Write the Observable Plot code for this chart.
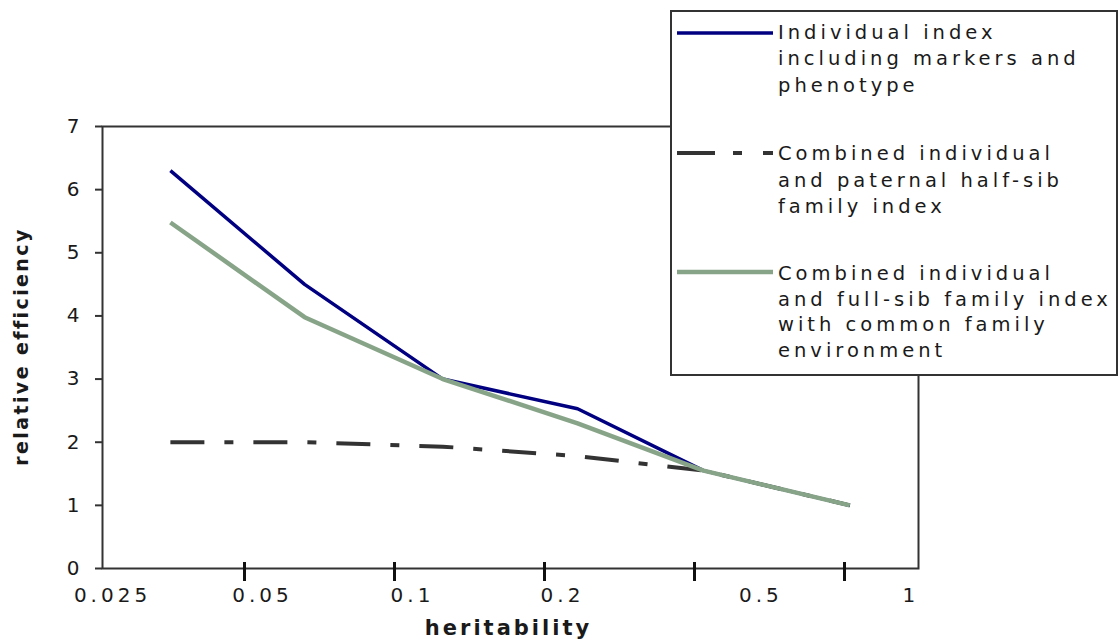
<!DOCTYPE html>
<html><head><meta charset="utf-8">
<script src="https://cdn.jsdelivr.net/npm/d3@7"></script>
<script src="https://cdn.jsdelivr.net/npm/@observablehq/plot@0.6"></script>
<style>
body{margin:0;background:#fff;}
#wrap{position:relative;width:1118px;height:641px;overflow:hidden;}
#legend{position:absolute;left:670px;top:10px;}
</style></head><body>
<div id="wrap"><div id="chart"></div><svg id="legend" width="448" height="368"></svg></div>
<script>
// ---- data ----
const heritability = [0.0355, 0.066, 0.125, 0.233, 0.417, 0.82];
const individualIndex = [6.3, 4.5, 3.0, 2.53, 1.55, 1.0];
const halfSibIndex = [2.0, 2.0, 1.93, 1.78, 1.55, 1.0];
const fullSibIndex = [5.48, 3.98, 3.0, 2.3, 1.55, 1.0];
const seriesNames = [
  "Individual index including markers and phenotype",
  "Combined individual and paternal half-sib family index",
  "Combined individual and full-sib family index with common family environment"
];
const legendLines = [
  ["Individual index", "including markers and", "phenotype"],
  ["Combined individual", "and paternal half-sib", "family index"],
  ["Combined individual", "and full-sib family index", "with common family", "environment"]
];
const xTickMarks = [0.05, 0.1, 0.2, 0.4, 0.8];
const xTickLabels = [0.025, 0.05, 0.1, 0.2, 0.5, 1];
const yTicks = [0, 1, 2, 3, 4, 5, 6, 7];

// ---- styles ----
const styles = [
  {stroke: "#000080", strokeWidth: 3.5, dash: null},
  {stroke: "#333333", strokeWidth: 4, dash: "34,20,9,20"},
  {stroke: "#88a488", strokeWidth: 4.5, dash: null}
];
const seriesValues = [individualIndex, halfSibIndex, fullSibIndex];
const rows = seriesValues.map((vals, i) => heritability.map((h, j) => ({h, v: vals[j], series: seriesNames[i]})));

const font = "DejaVu Sans, Verdana, sans-serif";
const lineMark = i => Plot.line(rows[i], {x: "h", y: "v", stroke: styles[i].stroke, strokeWidth: styles[i].strokeWidth,
  strokeDasharray: styles[i].dash || undefined, strokeLinejoin: "round", strokeLinecap: "butt"});

const chart = Plot.plot({
  width: 1118, height: 641,
  marginLeft: 102, marginRight: 200, marginTop: 126, marginBottom: 73,
  style: {fontFamily: font, color: "#1a1a1a", background: "white"},
  x: {type: "log", base: 2, domain: [0.025, 1.126], range: [94, 918]},
  y: {domain: [0, 7]},
  marks: [
    Plot.frame({stroke: "#333", strokeWidth: 2}),
    Plot.axisY({ticks: yTicks, tickSize: 7, tickPadding: 16, fontSize: 20, tickFormat: d => String(d), label: null, stroke: "#333", strokeWidth: 2}),
    Plot.axisX({ticks: xTickMarks, tickSize: 19, dy: -6, tickFormat: () => "", strokeWidth: 3, stroke: "#111", label: null}),
    Plot.axisX({ticks: xTickLabels, tickSize: 0, tickPadding: 19, dx: 18, fontSize: 20, tickFormat: d => String(d), label: null}),
    lineMark(1),
    lineMark(0),
    lineMark(2),
    Plot.text(["heritability"], {frameAnchor: "bottom", lineAnchor: "middle", textAnchor: "middle", dy: 60, dx: -2, fontSize: 21, fontWeight: "bold", fill: "#1a1a1a"}),
    Plot.text(["relative efficiency"], {frameAnchor: "left", lineAnchor: "middle", textAnchor: "middle", rotate: -90, dx: -81, dy: -1, fontSize: 19, fontWeight: "bold", fill: "#1a1a1a"})
  ]
});
document.getElementById("chart").appendChild(chart);
const sel = d3.select(chart);
sel.selectAll('g[aria-label="x-axis tick label"]').attr("font-size", 20);
sel.selectAll('g[aria-label="x-axis tick label"] text').attr("letter-spacing", 4);
sel.selectAll('g[aria-label="y-axis tick label"]').attr("font-size", 20);
const tg = sel.selectAll('g[aria-label="text"]').nodes();
if (tg[0]) d3.select(tg[0]).selectAll("text").attr("letter-spacing", 3);
if (tg[1]) d3.select(tg[1]).selectAll("text").attr("letter-spacing", 2.4);

// ---- legend ----
const lg = d3.select("#legend");
lg.append("rect").attr("x", 1).attr("y", 1).attr("width", 446).attr("height", 364)
  .attr("fill", "white").attr("stroke", "#333").attr("stroke-width", 2);
const sampleY = [23, 143, 262];
const firstBase = [29, 150, 270];
const lineGap = [26.3, 26.5, 25.6];
legendLines.forEach((lines, i) => {
  lg.append("line").attr("x1", 7).attr("x2", 103).attr("y1", sampleY[i]).attr("y2", sampleY[i])
    .attr("stroke", styles[i].stroke).attr("stroke-width", styles[i].strokeWidth)
    .attr("stroke-dasharray", i === 1 ? "38,18,9,21,10" : null);
  const t = lg.append("text").attr("font-family", font).attr("font-size", 19.5).attr("letter-spacing", 4.0)
    .attr("fill", "#1a1a1a");
  lines.forEach((s, k) => t.append("tspan").attr("x", 108).attr("y", firstBase[i] + k * lineGap[i]).text(s));
});
</script>
</body></html>
